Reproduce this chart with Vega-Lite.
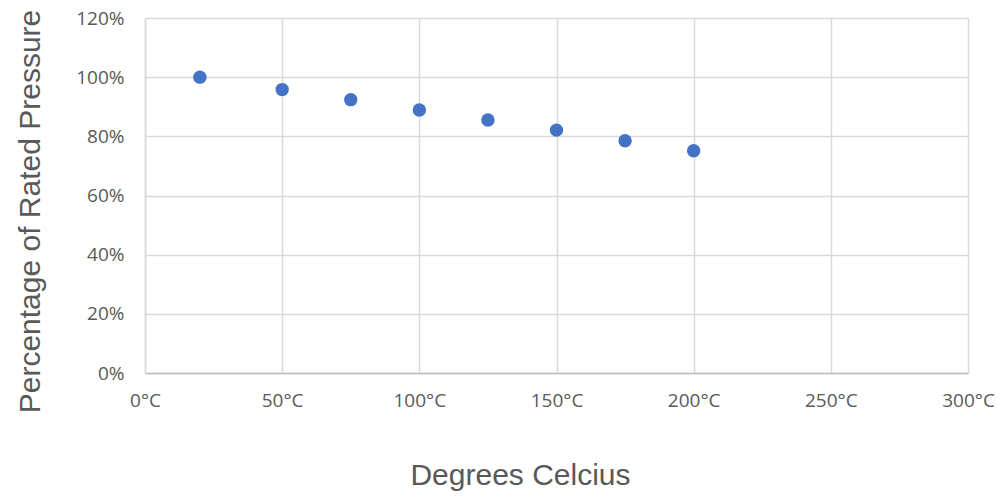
{
  "$schema": "https://vega.github.io/schema/vega-lite/v6.json",
  "width": 823,
  "height": 355,
  "autosize": {"type": "none"},
  "padding": {"left": 145, "top": 18, "right": 32, "bottom": 124},
  "background": "white",
  "config": {"view": {"stroke": null}},
  "data": {"values": [
    {"temp": 20, "pct": 1.0},
    {"temp": 50, "pct": 0.958},
    {"temp": 75, "pct": 0.924},
    {"temp": 100, "pct": 0.889},
    {"temp": 125, "pct": 0.855},
    {"temp": 150, "pct": 0.821},
    {"temp": 175, "pct": 0.785},
    {"temp": 200, "pct": 0.751}
  ]},
  "mark": {"type": "point", "filled": true, "shape": "circle", "size": 180, "color": "#4472C4", "opacity": 1},
  "encoding": {
    "x": {
      "field": "temp", "type": "quantitative",
      "scale": {"domain": [0, 300], "nice": false, "zero": true},
      "axis": {
        "values": [0, 50, 100, 150, 200, 250, 300],
        "labelExpr": "datum.value + '°C'",
        "labelFlush": false, "labelOverlap": false,
        "title": "Degrees Celcius",
        "titleFont": "Liberation Sans", "titleFontSize": 30, "titleFontWeight": "normal", "titleColor": "#595959",
        "titleX": 375, "titleY": 102, "titleAnchor": "middle", "titleBaseline": "middle",
        "labelFont": "Open Sans", "labelFontSize": 19, "labelColor": "#595959", "labelPadding": 18,
        "ticks": false, "domainColor": "#BFBFBF", "domainWidth": 1.5,
        "grid": true, "gridColor": "#D9D9D9", "gridWidth": 1.5
      }
    },
    "y": {
      "field": "pct", "type": "quantitative",
      "scale": {"domain": [0, 1.2], "nice": false},
      "axis": {
        "values": [0, 0.2, 0.4, 0.6, 0.8, 1.0, 1.2],
        "format": ".0%",
        "labelFlush": false, "labelOverlap": false,
        "title": "Percentage of Rated Pressure",
        "titleFont": "Liberation Sans", "titleFontSize": 30, "titleFontWeight": "normal", "titleColor": "#595959",
        "titleX": -115, "titleY": 193, "titleAnchor": "middle", "titleBaseline": "middle", "titleAngle": -90,
        "labelFont": "Open Sans", "labelFontSize": 19, "labelColor": "#595959", "labelPadding": 21,
        "ticks": false, "domainColor": "#D9D9D9", "domainWidth": 1.5,
        "grid": true, "gridColor": "#D9D9D9", "gridWidth": 1.5
      }
    }
  }
}
